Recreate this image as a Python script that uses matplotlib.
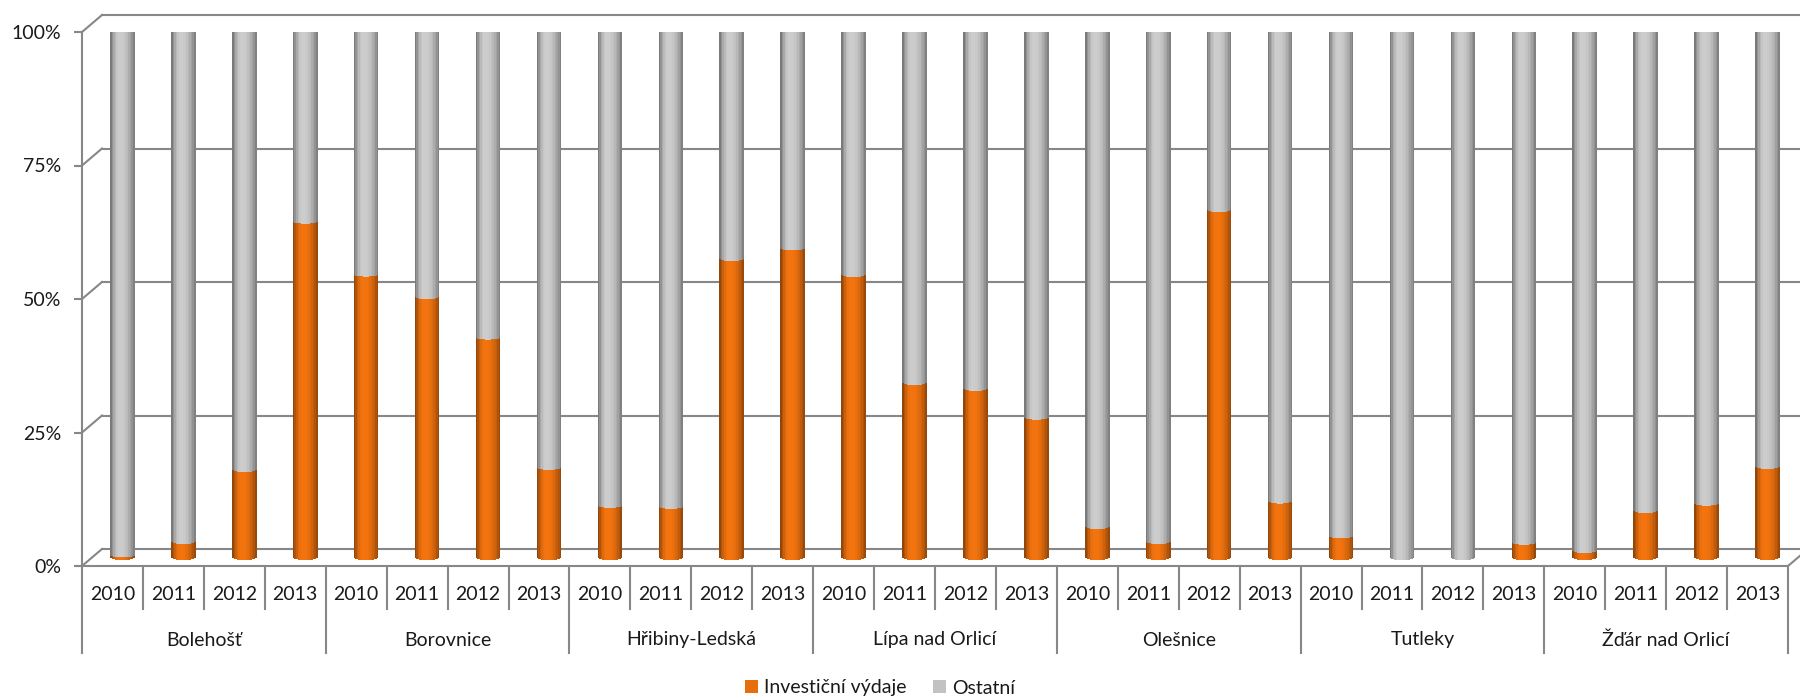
import matplotlib
matplotlib.use('Agg')
import matplotlib.pyplot as plt
from matplotlib.patches import Patch, Ellipse
from matplotlib.lines import Line2D
from matplotlib import transforms
import numpy as np

# ---------------- data ----------------
municipalities = ['Bolehošť', 'Borovnice', 'Hřibiny-Ledská', 'Lípa nad Orlicí',
                  'Olešnice', 'Tutleky', 'Žďár nad Orlicí']
years = ['2010', '2011', '2012', '2013']
inv_bolehost = [0.5, 3.0, 16.5, 63.0]
inv_borovnice = [53.1, 48.9, 41.3, 16.9]
inv_hribiny = [9.8, 9.6, 56.0, 58.0]
inv_lipa = [53.0, 32.8, 31.7, 26.3]
inv_olesnice = [5.8, 3.0, 65.2, 10.6]
inv_tutleky = [4.1, 0.0, 0.0, 2.9]
inv_zdar = [1.3, 8.8, 10.2, 17.1]
y_ticks = [0, 25, 50, 75, 100]
y_labels = ['0%', '25%', '50%', '75%', '100%']
series_names = ['Investiční výdaje', 'Ostatní']

investicni = np.array(inv_bolehost + inv_borovnice + inv_hribiny + inv_lipa +
                      inv_olesnice + inv_tutleky + inv_zdar, dtype=float)
ostatni = 100.0 - investicni

# ---------------- style ----------------
plt.rcParams['font.family'] = ['Lato', 'DejaVu Sans']
TXT = '#1a1a1a'
LINE = '#878787'
ORANGE = np.array([243, 116, 14]) / 255.0
GRAY = np.array([204, 204, 204]) / 255.0
TOPCAP = '#a8a8a8'
FS = 14

W, H = 1800, 700
fig = plt.figure(figsize=(W / 100, H / 100), dpi=100)
ax = fig.add_axes([82 / W, 134 / H, (1788 - 82) / W, (668 - 134) / H])
n = len(investicni)
ax.set_xlim(-0.5, n - 0.5)
ax.set_ylim(0, 100)
ax.patch.set_visible(False)
for s in ['top', 'right']:
    ax.spines[s].set_visible(False)
for s in ['left', 'bottom']:
    ax.spines[s].set_color(LINE)
    ax.spines[s].set_linewidth(1.5)
ax.set_xticks([])
ax.set_yticks(y_ticks)
ax.set_yticklabels(y_labels, fontsize=FS, color=TXT)
ax.tick_params(axis='y', length=6, width=1.5, color=LINE, pad=9)

# 3D-like offsets
back = transforms.offset_copy(ax.transData, fig=fig, x=20, y=17, units='dots')
mid = transforms.offset_copy(ax.transData, fig=fig, x=10, y=8.5, units='dots')
ident = transforms.IdentityTransform()

def seg(p_tr, p, q_tr, q, **kw):
    a = p_tr.transform(p)
    b = q_tr.transform(q)
    ax.add_line(Line2D([a[0], b[0]], [a[1], b[1]], transform=ident,
                       clip_on=False, **kw))

# back wall gridlines + left wall diagonals
for v in y_ticks:
    ax.plot([-0.5, n - 0.5], [v, v], transform=back, color=LINE, lw=1.5,
            clip_on=False, zorder=1)
    seg(ax.transData, (-0.5, v), back, (-0.5, v), color=LINE, lw=1.5, zorder=1)
# floor right diagonal
seg(ax.transData, (n - 0.5, 0), back, (n - 0.5, 0), color=LINE, lw=1.5, zorder=1)

# ---------------- cylinders ----------------
bw = 0.40
nstrip = 16
profile = np.array([0.60, 0.72, 0.83, 0.91, 0.97, 1.0, 1.0, 1.0,
                    0.99, 0.97, 0.94, 0.90, 0.85, 0.79, 0.72, 0.63])
cap = 0.5
xs = np.arange(n)
for k in range(nstrip):
    u = (k + 0.5) / nstrip * 2 - 1
    dx = u * bw / 2
    arc = cap * np.sqrt(max(0.0, 1 - u * u))
    f = profile[k]
    oc = np.clip(ORANGE * f, 0, 1)
    gc = np.clip(GRAY * f, 0, 1)
    has_o = investicni > 0
    ax.bar(xs[has_o] + dx, investicni[has_o], bottom=-arc, width=bw / nstrip * 1.15,
           color=oc, edgecolor='none', linewidth=0, transform=mid, zorder=3,
           align='center')
    gb = np.where(has_o, investicni - arc, -arc)
    top = ostatni + investicni
    ax.bar(xs + dx, top - gb, bottom=gb, width=bw / nstrip * 1.15,
           color=gc, edgecolor='none', linewidth=0, transform=mid, zorder=4,
           align='center')
for i in range(n):
    ax.add_patch(Ellipse((xs[i], investicni[i] + ostatni[i]), bw, cap * 2,
                         transform=mid, facecolor=TOPCAP, edgecolor='none', zorder=5))

# ---------------- category axis ----------------
blend = transforms.blended_transform_factory(ax.transData, fig.transFigure)
y_axis = 134 / H
for i in range(n):
    ax.text(xs[i], 1 - 595 / H, years[i % len(years)], transform=blend,
            ha='center', va='center', fontsize=FS, color=TXT)
for i in range(n + 1):
    x = i - 0.5
    lo = 1 - (653 if i % len(years) == 0 else 609) / H
    ax.plot([x, x], [y_axis, lo], transform=blend, color=LINE, lw=1.5, clip_on=False)
for g, name in enumerate(municipalities):
    cx = g * len(years) + (len(years) - 1) / 2
    ax.text(cx, 1 - 640 / H, name, transform=blend, ha='center', va='center',
            fontsize=FS, color=TXT)

# ---------------- legend ----------------
handles = [Patch(facecolor=ORANGE * 0.95, edgecolor='none'),
           Patch(facecolor=GRAY * 0.95, edgecolor='none')]
fig.legend(handles, series_names, loc='center', bbox_to_anchor=(880 / W, 1 - 688 / H),
           ncol=2, frameon=False, fontsize=FS, handlelength=0.65, handleheight=0.65,
           handletextpad=0.3, columnspacing=1.4, labelcolor=TXT)

fig.savefig('out.png', dpi=100)
